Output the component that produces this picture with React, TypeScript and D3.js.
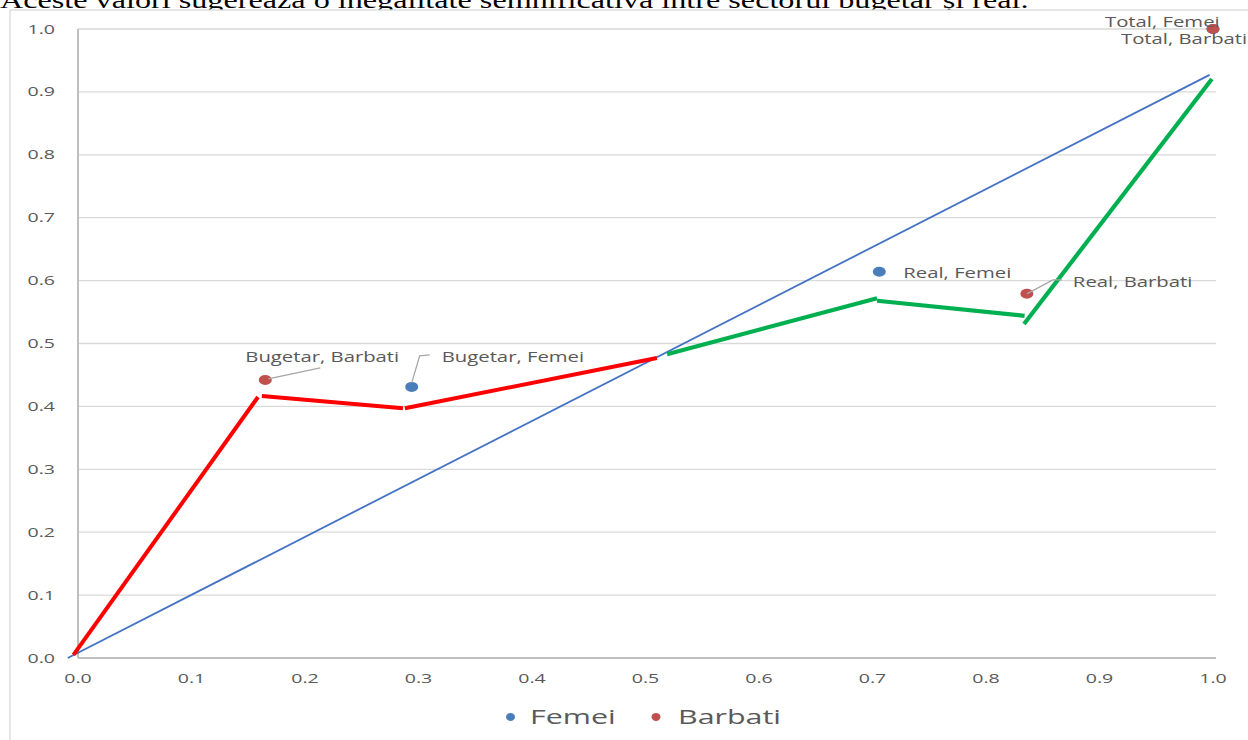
import React from "react";
import * as d3 from "d3";

// Axis ticks
const X_TICKS = [0, 0.1, 0.2, 0.3, 0.4, 0.5, 0.6, 0.7, 0.8, 0.9, 1.0];
const Y_TICKS = [0, 0.1, 0.2, 0.3, 0.4, 0.5, 0.6, 0.7, 0.8, 0.9, 1.0];

// Equality diagonal
const diagonal: [number, number][] = [
  [-0.009, 0.0],
  [0.997, 0.927],
];

// Bugetar sector curve (red segments)
const bugetarSegments: [number, number][][] = [
  [[-0.004, 0.005], [0.1586, 0.415]],
  [[0.162, 0.4165], [0.2863, 0.397]],
  [[0.288, 0.397], [0.51, 0.477]],
];

// Real sector curve (green segments)
const realSegments: [number, number][][] = [
  [[0.519, 0.483], [0.704, 0.572]],
  [[0.704, 0.568], [0.834, 0.544]],
  [[0.8335, 0.531], [0.999, 0.9205]],
];

// Scatter series
const femeiPoints = [
  { name: "Bugetar, Femei", x: 0.294, y: 0.431 },
  { name: "Real, Femei", x: 0.706, y: 0.614 },
  { name: "Total, Femei", x: 1.0, y: 1.0 },
];
const barbatiPoints = [
  { name: "Bugetar, Barbati", x: 0.165, y: 0.442 },
  { name: "Real, Barbati", x: 0.836, y: 0.579 },
  { name: "Total, Barbati", x: 1.0, y: 1.0 },
];

const legendItems = [
  { label: "Femei", color: "#4A7EBB" },
  { label: "Barbati", color: "#C0504D" },
];

const TITLE =
  "Aceste valori sugerează o inegalitate semnificativă între sectorul bugetar și real.";

const W = 1248;
const H = 740;
const FEMEI = "#4A7EBB";
const BARBATI = "#C0504D";
const TEXT = "#595959";
const FONT = "'Open Sans', sans-serif";

// label placement relative to each point (px), plus optional leader polyline
const labelLayout: Record<string, { dx: number; dy: number; leader?: [number, number][] }> = {
  "Bugetar, Barbati": { dx: -20, dy: -18, leader: [[3, -1], [55, -12]] },
  "Bugetar, Femei": { dx: 30, dy: -25, leader: [[0, -4], [8, -31], [18, -32]] },
  "Real, Femei": { dx: 24, dy: 6 },
  "Real, Barbati": { dx: 46, dy: -7, leader: [[0, 0], [26, -14], [35, -14]] },
  "Total, Femei": { dx: -108, dy: -2 },
  "Total, Barbati": { dx: -92, dy: 15 },
};

function SText({
  x,
  y,
  sx,
  size,
  anchor = "start",
  fill = TEXT,
  family = FONT,
  children,
}: {
  x: number;
  y: number;
  sx: number;
  size: number;
  anchor?: string;
  fill?: string;
  family?: string;
  children: React.ReactNode;
}) {
  return (
    <text
      transform={`translate(${x},${y}) scale(${sx},1)`}
      textAnchor={anchor as any}
      fontSize={size}
      fontFamily={family}
      fill={fill}
    >
      {children}
    </text>
  );
}

export default function App() {
  const x = d3.scaleLinear().domain([0, 1]).range([78, 1213]);
  const y = d3.scaleLinear().domain([0, 1]).range([658, 29]);
  const line = d3
    .line<[number, number]>()
    .x((d) => x(d[0]))
    .y((d) => y(d[1]));

  const labelFor = (p: { name: string; x: number; y: number }) => {
    const L = labelLayout[p.name];
    const px = x(p.x);
    const py = y(p.y);
    return (
      <g key={p.name}>
        {L.leader && (
          <polyline
            points={L.leader.map(([a, b]) => `${px + a},${py + b}`).join(" ")}
            fill="none"
            stroke="#A6A6A6"
            strokeWidth={1.3}
          />
        )}
        <SText x={px + L.dx} y={py + L.dy} sx={1.4} size={14.5}>
          {p.name}
        </SText>
      </g>
    );
  };

  return (
    <svg
      width={W}
      height={H}
      style={{ position: "absolute", left: 0, top: 0, background: "#fff" }}
    >
      {/* heading sentence, cut by the top edge */}
      <SText x={0} y={7.5} sx={1.4} size={23} fill="#000" family="'Liberation Serif', serif">
        {TITLE}
      </SText>

      {/* chart frame */}
      <rect x={10} y={10} width={W + 20} height={H + 20} fill="#fff" stroke="#D9D9D9" strokeWidth={1.3} />

      {/* gridlines */}
      {Y_TICKS.map((t) => (
        <line
          key={"g" + t}
          x1={x(0)}
          x2={1216}
          y1={y(t)}
          y2={y(t)}
          stroke={t === 0 ? "#BFBFBF" : "#D9D9D9"}
          strokeWidth={t === 0 ? 2 : 1.3}
        />
      ))}
      {/* vertical axis */}
      <line x1={x(0)} x2={x(0)} y1={y(1)} y2={y(0)} stroke="#BFBFBF" strokeWidth={2} />

      {/* y tick labels */}
      {Y_TICKS.map((t) => (
        <SText key={"y" + t} x={55} y={y(t) + 4.5} sx={1.55} size={12.6} anchor="end">
          {t.toFixed(1)}
        </SText>
      ))}
      {/* x tick labels */}
      {X_TICKS.map((t) => (
        <SText key={"x" + t} x={x(t)} y={683} sx={1.55} size={12.6} anchor="middle">
          {t.toFixed(1)}
        </SText>
      ))}

      {/* equality line */}
      <path d={line(diagonal) || ""} fill="none" stroke="#4472C4" strokeWidth={1.8} />

      {/* sector curves */}
      {bugetarSegments.map((s, i) => (
        <path key={"b" + i} d={line(s) || ""} fill="none" stroke="#FF0000" strokeWidth={4} />
      ))}
      {realSegments.map((s, i) => (
        <path key={"r" + i} d={line(s) || ""} fill="none" stroke="#00B050" strokeWidth={4.2} />
      ))}

      {/* points */}
      {femeiPoints.map((p) => (
        <ellipse key={"f" + p.name} cx={x(p.x)} cy={y(p.y)} rx={6.5} ry={5} fill={FEMEI} />
      ))}
      {barbatiPoints.map((p) => (
        <ellipse key={"m" + p.name} cx={x(p.x)} cy={y(p.y)} rx={6.5} ry={5} fill={BARBATI} />
      ))}

      {/* data labels */}
      {femeiPoints.map(labelFor)}
      {barbatiPoints.map(labelFor)}

      {/* legend */}
      <g>
        <ellipse cx={510.5} cy={717} rx={4.5} ry={4} fill={legendItems[0].color} />
        <SText x={530} y={724} sx={1.52} size={20}>
          {legendItems[0].label}
        </SText>
        <ellipse cx={656} cy={717} rx={4.5} ry={4} fill={legendItems[1].color} />
        <SText x={678} y={724} sx={1.52} size={20}>
          {legendItems[1].label}
        </SText>
      </g>
    </svg>
  );
}
